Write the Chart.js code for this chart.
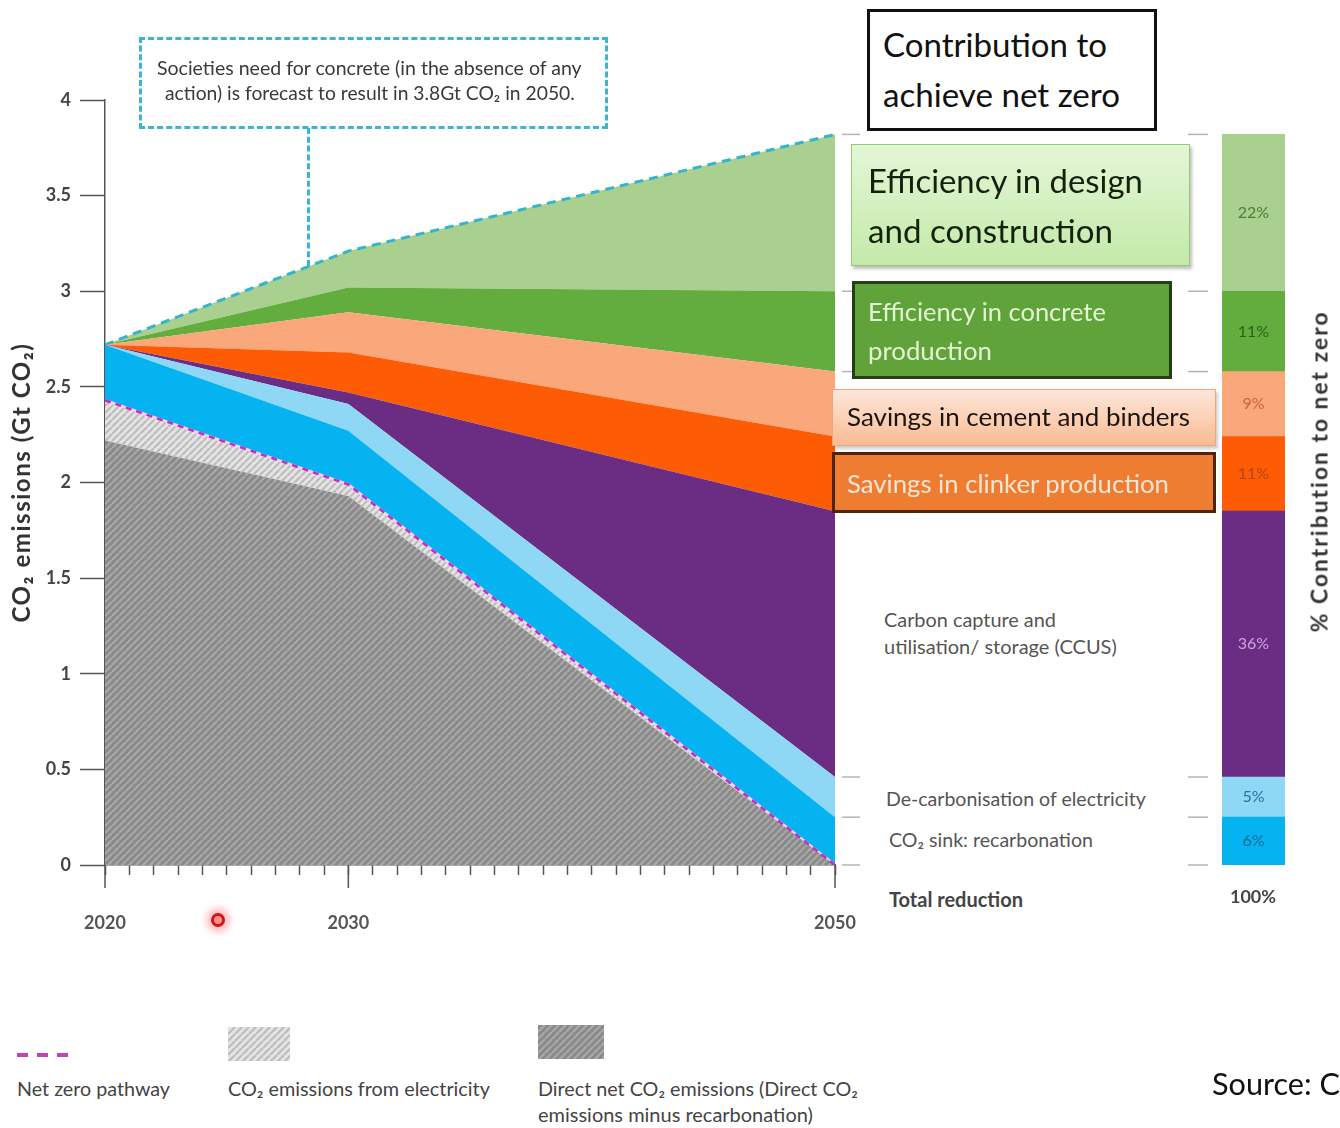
<!DOCTYPE html>
<html><head><meta charset="utf-8">
<script src="https://cdn.jsdelivr.net/npm/chart.js@4.4.1/dist/chart.umd.min.js"></script>
<style>
html,body{margin:0;padding:0;width:1340px;height:1128px;overflow:hidden;background:#fff;}
#wrap{position:relative;width:1340px;height:1128px;overflow:hidden;}
canvas{position:absolute;}
.box{position:absolute;box-sizing:border-box;}
.t{position:absolute;white-space:nowrap;line-height:1;}
</style></head><body><div id="wrap">
<canvas id="main" width="880" height="960" style="left:0;top:0;"></canvas>
<canvas id="bar" width="190" height="1128" style="left:1150px;top:0;"></canvas>
</div>
<script>
// ---------------- DATA ----------------
const years = [2020, 2030, 2050];
const directNet = [2.22, 1.93, 0];
const netZeroPathway = [2.43, 1.99, 0];
const recarbonationTop = [2.72, 2.27, 0.25];
const decarbElecTop = [2.72, 2.41, 0.46];
const ccusTop = [2.72, 2.47, 1.85];
const clinkerTop = [2.72, 2.68, 2.24];
const cementTop = [2.72, 2.89, 2.58];
const concreteProdTop = [2.72, 3.02, 3.00];
const designTop = [2.72, 3.21, 3.82];
const contributionPct = [6, 5, 36, 11, 9, 11, 22];
const contributionNames = ['CO₂ sink: recarbonation', 'De-carbonisation of electricity', 'Carbon capture and utilisation/ storage (CCUS)', 'Savings in clinker production', 'Savings in cement and binders', 'Efficiency in concrete production', 'Efficiency in design and construction'];
const yTicks = [0, 0.5, 1, 1.5, 2, 2.5, 3, 3.5, 4];
const xMajorYears = [2020, 2030, 2050];
const yTitle = 'CO₂ emissions (Gt CO₂)';

// ---------------- STYLE ----------------
const C = {
  blue: '#05b3f0', lightBlue: '#8ed8f6', purple: '#6b2c84', orange: '#fd5c05',
  salmon: '#f9a77b', green: '#63ad3e', lightGreen: '#a9d08e'
};
function hatch(bg, fg, size, lw) {
  const c = document.createElement('canvas'); c.width = c.height = size;
  const g = c.getContext('2d');
  g.fillStyle = bg; g.fillRect(0, 0, size, size);
  g.strokeStyle = fg; g.lineWidth = lw; g.beginPath();
  for (let k = -1; k <= 1; k++) { g.moveTo(k * size, size); g.lineTo(k * size + size, 0); }
  g.stroke();
  return c;
}
const darkC = hatch('#8a8a8a', '#a9a9a9', 7, 2.2);
const lightC = hatch('#e4e4e4', '#bcbcbc', 7, 2.2);
const ctxMain = document.getElementById('main').getContext('2d');
const darkHatch = ctxMain.createPattern(darkC, 'repeat');
const lightHatch = ctxMain.createPattern(lightC, 'repeat');

const pts = arr => arr.map((v, i) => ({ x: years[i], y: v }));
const area = (label, data, bg, fill, extra) => Object.assign({
  label, data: pts(data), backgroundColor: bg, borderColor: 'transparent', borderWidth: 0,
  pointRadius: 0, pointHoverRadius: 0, fill, tension: 0
}, extra || {});

const levels2050 = [netZeroPathway[2], recarbonationTop[2], decarbElecTop[2], ccusTop[2], clinkerTop[2], cementTop[2], concreteProdTop[2], designTop[2]];

const mainDecor = {
  id: 'mainDecor',
  afterDraw(chart) {
    const { ctx, chartArea: a, scales: { x, y } } = chart;
    ctx.save();
    ctx.strokeStyle = '#555'; ctx.lineWidth = 1.5;
    xMajorYears.forEach(v => {
      const px = x.getPixelForValue(v);
      ctx.beginPath(); ctx.moveTo(px, a.bottom); ctx.lineTo(px, a.bottom + 23); ctx.stroke();
    });
    ctx.strokeStyle = '#b5b5b5'; ctx.lineWidth = 1.5;
    levels2050.forEach(v => {
      const py = y.getPixelForValue(v);
      ctx.beginPath(); ctx.moveTo(a.right + 7, py); ctx.lineTo(a.right + 25, py); ctx.stroke();
    });
    // y axis title (letter-spaced)
    const ls = 1.5, target = 280;
    ctx.letterSpacing = '0px';
    ctx.font = 'bold 100px Lato';
    const w100 = ctx.measureText(yTitle).width;
    const fs = 100 * (target - ls * yTitle.length) / w100;
    ctx.font = 'bold ' + fs.toFixed(2) + 'px Lato';
    ctx.letterSpacing = ls + 'px';
    ctx.fillStyle = '#333'; ctx.textAlign = 'center'; ctx.textBaseline = 'middle';
    ctx.translate(22, (a.top + a.bottom) / 2);
    ctx.rotate(-Math.PI / 2);
    ctx.fillText(yTitle, 0, 0);
    ctx.restore();
  }
};

new Chart(ctxMain, {
  type: 'line',
  data: {
    datasets: [
      { label: 'Net zero pathway', data: pts(netZeroPathway), borderColor: '#c12fc4', borderWidth: 2.6, borderDash: [6, 5], fill: false, pointRadius: 0, tension: 0 },
      area('Direct net CO₂ emissions', directNet, darkHatch, 'origin'),
      area('CO₂ emissions from electricity', netZeroPathway, lightHatch, 1, { borderColor: '#f3d3f1', borderWidth: 2.6 }),
      area('CO₂ sink: recarbonation', recarbonationTop, C.blue, 2),
      area('De-carbonisation of electricity', decarbElecTop, C.lightBlue, 3),
      area('CCUS', ccusTop, C.purple, 4),
      area('Savings in clinker production', clinkerTop, C.orange, 5),
      area('Savings in cement and binders', cementTop, C.salmon, 6),
      area('Efficiency in concrete production', concreteProdTop, C.green, 7),
      area('Efficiency in design and construction', designTop, C.lightGreen, 8, { borderColor: '#34b4d0', borderWidth: 3, borderDash: [9, 6] })
    ]
  },
  options: {
    responsive: false, animation: false, devicePixelRatio: 1,
    layout: { padding: { left: 0, top: 100, right: 45, bottom: 0 } },
    plugins: { legend: { display: false }, tooltip: { enabled: false } },
    scales: {
      x: {
        type: 'linear', min: 2020, max: 2050,
        ticks: {
          stepSize: 1, autoSkip: false, maxRotation: 0, padding: 37, color: '#555',
          font: { family: 'Lato', size: 18, weight: 'bold' },
          callback: v => xMajorYears.includes(v) ? String(v) : ''
        },
        grid: { drawOnChartArea: false, drawTicks: true, tickLength: 10, tickColor: '#555', tickWidth: 1.5 },
        border: { display: true, color: '#555', width: 1.5 },
        afterFit: s => { s.height = 95; s.paddingLeft = 0; s.paddingRight = 0; }
      },
      y: {
        min: 0, max: 4,
        afterBuildTicks: s => { s.ticks = yTicks.map(v => ({ value: v })); },
        ticks: { padding: 9, color: '#444', font: { family: 'Lato', size: 18, weight: 'bold' }, callback: v => String(v) },
        grid: { drawOnChartArea: false, tickLength: 25, tickColor: '#555', tickWidth: 1.5 },
        border: { color: '#555', width: 1.5 },
        afterFit: s => { s.width = 105; }
      }
    }
  },
  plugins: [mainDecor]
});

// ---------------- contribution bar ----------------
const layers = [recarbonationTop, decarbElecTop, ccusTop, clinkerTop, cementTop, concreteProdTop, designTop];
const layerColors = [C.blue, C.lightBlue, C.purple, C.orange, C.salmon, C.green, C.lightGreen];
const labelColors = ['#1b6a93', '#2a7198', '#c9a6dc', '#b8441a', '#c7683c', '#2e5d1d', '#4b7d36'];
const barDecor = {
  id: 'barDecor',
  afterDatasetsDraw(chart) {
    const { ctx, chartArea: a, scales: { y } } = chart;
    ctx.save();
    ctx.font = '16px Lato'; ctx.textAlign = 'center'; ctx.textBaseline = 'middle';
    chart.data.datasets.forEach((ds, i) => {
      const el = chart.getDatasetMeta(i).data[0];
      ctx.fillStyle = labelColors[i];
      ctx.fillText(contributionPct[i] + '%', el.x, (el.y + el.base) / 2);
    });
    ctx.strokeStyle = '#b5b5b5'; ctx.lineWidth = 1.5;
    levels2050.forEach(v => {
      const py = y.getPixelForValue(v);
      ctx.beginPath(); ctx.moveTo(a.left - 34, py); ctx.lineTo(a.left - 14, py); ctx.stroke();
    });
    ctx.restore();
  }
};
new Chart(document.getElementById('bar').getContext('2d'), {
  type: 'bar',
  data: {
    labels: ['2050'],
    datasets: layers.map((arr, i) => ({
      label: contributionNames[i],
      data: [[i === 0 ? netZeroPathway[2] : layers[i - 1][2], arr[2]]],
      backgroundColor: layerColors[i], borderWidth: 0, barPercentage: 1, categoryPercentage: 1
    }))
  },
  options: {
    responsive: false, animation: false, devicePixelRatio: 1,
    layout: { padding: { left: 72, right: 55, top: 100, bottom: 263 } },
    plugins: { legend: { display: false }, tooltip: { enabled: false } },
    scales: {
      x: { display: false, stacked: true },
      y: { display: false, min: 0, max: 4 }
    }
  },
  plugins: [barDecor]
});

// ---------------- annotations / boxes ----------------
const wrap = document.getElementById('wrap');
function box(l, t, w, h, css) {
  const d = document.createElement('div'); d.className = 'box';
  d.style.left = l + 'px'; d.style.top = t + 'px'; d.style.width = w + 'px'; d.style.height = h + 'px';
  d.style.cssText += css; wrap.appendChild(d); return d;
}
// callout
box(139, 37, 469, 92, 'border:3px dashed #3ab6d3;');
box(307, 128, 3, 138, 'border-left:3px dashed #3ab6d3;');
// right boxes
box(867, 9, 290, 122, 'border:3px solid #111;background:#fff;');
box(851, 144, 339, 122, 'border:1.5px solid #93ca78;background:linear-gradient(#e4f6d6,#c3eaa9);box-shadow:2px 3px 3px rgba(0,0,0,0.25);');
box(852, 281, 320, 98, 'border:3px solid #263f17;background:#5fa33a;');
box(832, 389, 384, 57, 'border:1.5px solid #eea77b;background:linear-gradient(#fde7da,#f9bb93);box-shadow:2px 3px 3px rgba(0,0,0,0.2);');
box(832, 452, 384, 61, 'border:3px solid #4f2409;background:#ee7c31;');
// red marker
box(211, 913, 14, 14, 'border-radius:50%;background:#ff9090;border:3px solid #d21414;box-shadow:0 0 7px 5px rgba(255,70,70,0.35);');
// legend swatches
box(17, 1053, 55, 4, 'background:repeating-linear-gradient(90deg,#c341bb 0 11px,transparent 11px 20px);');
function swatch(l, t, w, h, pat) {
  const c = document.createElement('canvas'); c.width = w; c.height = h;
  c.style.left = l + 'px'; c.style.top = t + 'px';
  const g = c.getContext('2d'); g.fillStyle = g.createPattern(pat, 'repeat'); g.fillRect(0, 0, w, h);
  wrap.appendChild(c);
}
swatch(228, 1027, 62, 34, lightC);
swatch(538, 1025, 66, 34, darkC);

// ---------------- texts ----------------
const CAL = 'Lato';
const texts = [
  { text: 'Contribution to', x: 883, cy: 46, w: 224, color: '#111', font: CAL },
  { text: 'achieve net zero', x: 883, cy: 96, w: 237, color: '#111', font: CAL },
  { text: 'Efficiency in design', x: 868, cy: 183, w: 275, color: '#14210d', font: CAL },
  { text: 'and construction', x: 868, cy: 232, w: 245, color: '#14210d', font: CAL },
  { text: 'Efficiency in concrete', x: 868, cy: 313, w: 238, color: '#e4f3d3', font: CAL },
  { text: 'production', x: 868, cy: 352, w: 124, color: '#e4f3d3', font: CAL },
  { text: 'Savings in cement and binders', x: 847, cy: 418, w: 343, color: '#1a1410', font: CAL },
  { text: 'Savings in clinker production', x: 847, cy: 485, w: 322, color: '#fde6d6', font: CAL },
  { text: 'Carbon capture and', x: 884, cy: 621, w: 172, color: '#555' },
  { text: 'utilisation/ storage (CCUS)', x: 884, cy: 647, w: 233, color: '#555' },
  { text: 'De-carbonisation of electricity', x: 886, cy: 800, w: 260, color: '#555' },
  { text: 'CO₂ sink: recarbonation', x: 889, cy: 841, w: 204, color: '#555' },
  { text: 'Total reduction', x: 889, cy: 900, w: 134, color: '#444', weight: 'bold' },
  { text: '100%', cx: 1253, cy: 898, w: 46, color: '#444', weight: 'bold' },
  { text: 'Societies need for concrete (in the absence of any', x: 157, cy: 69, w: 425, color: '#3a3a3a' },
  { text: 'action) is forecast to result in 3.8Gt CO₂ in 2050.', x: 165, cy: 94, w: 410, color: '#3a3a3a' },
  { text: 'Net zero pathway', x: 17, cy: 1090, w: 153, color: '#444' },
  { text: 'CO₂ emissions from electricity', x: 228, cy: 1090, w: 262, color: '#444' },
  { text: 'Direct net CO₂ emissions (Direct CO₂', x: 538, cy: 1090, w: 320, color: '#444' },
  { text: 'emissions minus recarbonation)', x: 538, cy: 1115, w: 275, color: '#444' },
  { text: 'Source: C', x: 1212, cy: 1086, w: 128, color: '#111', font: CAL },
  { text: '% Contribution to net zero', cx: 1320, cy: 471, w: 322, color: '#333', weight: 'bold', rot: true, ls: '0.09em' }
];
texts.forEach(s => {
  const d = document.createElement('div'); d.className = 't'; d.textContent = s.text;
  d.style.fontFamily = (s.font || 'Lato') + ', sans-serif';
  d.style.fontWeight = s.weight || 'normal';
  d.style.color = s.color; d.style.fontSize = '100px';
  if (s.ls) d.style.letterSpacing = s.ls;
  wrap.appendChild(d);
  const w0 = d.getBoundingClientRect().width;
  const fs = 100 * s.w / w0;
  d.style.fontSize = fs + 'px';
  const left = s.cx !== undefined ? s.cx - s.w / 2 : s.x;
  if (s.rot) {
    d.style.left = (s.cx - s.w / 2) + 'px'; d.style.top = (s.cy - fs / 2) + 'px';
    d.style.transform = 'rotate(-90deg)'; d.style.transformOrigin = '50% 50%';
  } else {
    d.style.left = left + 'px'; d.style.top = (s.cy - 0.55 * fs) + 'px';
  }
});
</script>
</body></html>
